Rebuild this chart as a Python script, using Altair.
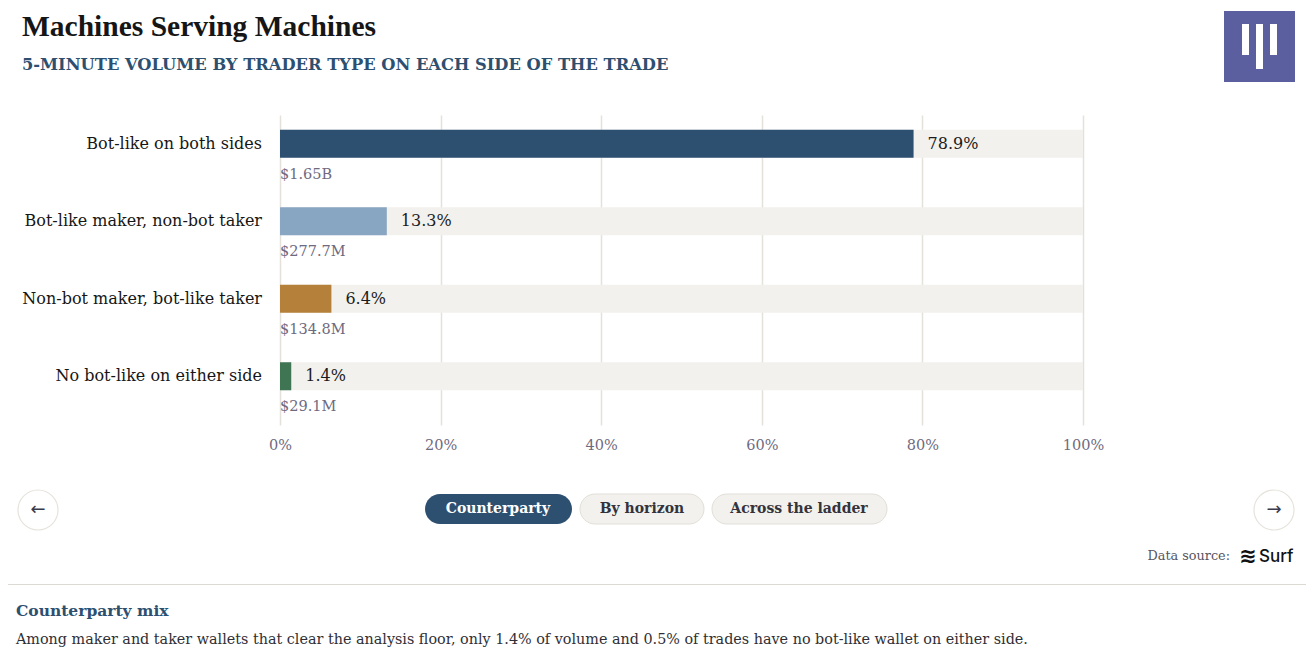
import altair as alt
import pandas as pd

categories = ["Bot-like on both sides", "Bot-like maker, non-bot taker",
              "Non-bot maker, bot-like taker", "No bot-like on either side"]
shares = [78.9, 13.3, 6.4, 1.4]
volumes = ["$1.65B", "$277.7M", "$134.8M", "$29.1M"]
colors = ["#2d4f70", "#88a5c2", "#b5813a", "#3f7552"]
tick_values = [0, 20, 40, 60, 80, 100]
buttons = ["Counterparty", "By horizon", "Across the ladder"]

SERIF = "DejaVu Serif"
TSERIF = "Liberation Serif"
W, H = 803, 310

df = pd.DataFrame({"cat": categories, "pct": shares, "vol": volumes, "full": [100] * 4})

ysc = alt.Y("cat:N", sort=categories, axis=None,
            scale=alt.Scale(paddingInner=0, paddingOuter=0))
base = alt.Chart(df)

track = base.mark_bar(size=28, yOffset=-10, color="#f2f1ed").encode(
    x=alt.X("full:Q", scale=alt.Scale(domain=[0, 100]),
            axis=alt.Axis(values=tick_values, labelExpr="datum.value + '%'", title=None,
                          grid=True, gridColor="#e4e1da", gridWidth=1.5,
                          domain=False, ticks=False, labelPadding=13, labelFlush=False,
                          labelFont=SERIF, labelFontSize=14.5, labelColor="#6e6a80")),
    y=ysc,
)
bars = base.mark_bar(size=28, yOffset=-10).encode(
    x="pct:Q", y=ysc,
    color=alt.Color("cat:N", scale=alt.Scale(domain=categories, range=colors), legend=None),
)
pct_text = base.transform_calculate(lbl="format(datum.pct, '.1f') + '%'").mark_text(
    align="left", baseline="middle", dx=14, dy=-10, font=SERIF, fontSize=16, color="#1c1c1c"
).encode(x="pct:Q", y=ysc, text="lbl:N")
vol_text = base.mark_text(
    align="left", baseline="middle", dy=21, font=SERIF, fontSize=14.5, color="#6e6a80"
).encode(x=alt.value(0), y=ysc, text="vol:N")
cat_text = base.mark_text(
    align="right", baseline="middle", dy=-10, font=SERIF, fontSize=16, color="#161616"
).encode(x=alt.value(-18), y=ysc, text="cat:N")


def txt(s, x, y, **kw):
    return alt.Chart(alt.Data(values=[{"t": s}])).mark_text(**kw).encode(
        text="t:N", x=alt.value(x), y=alt.value(y))


def box(x, x2, y, y2, **kw):
    return alt.Chart(alt.Data(values=[{}])).mark_rect(**kw).encode(
        x=alt.value(x), x2=alt.value(x2), y=alt.value(y), y2=alt.value(y2))


OX, OY = 280, 115  # plot origin on screen

deco = [
    txt("Machines Serving Machines", 22 - OX, 36 - OY, align="left", baseline="alphabetic",
        font=TSERIF, fontSize=29.5, fontWeight="bold", color="#161616"),
    txt("5-MINUTE VOLUME BY TRADER TYPE ON EACH SIDE OF THE TRADE", 22 - OX, 70 - OY,
        align="left", baseline="alphabetic", font="DejaVu Serif", fontSize=16.3,
        fontWeight="bold", color="#2d4f70"),
    box(1224 - OX, 1295 - OX, 11 - OY, 82 - OY, color="#5b5e9f"),
    box(1242 - OX, 1249 - OX, 24 - OY, 55 - OY, color="#ffffff"),
    box(1256 - OX, 1263 - OX, 24 - OY, 69 - OY, color="#ffffff"),
    box(1270 - OX, 1277 - OX, 24 - OY, 55 - OY, color="#ffffff"),
    # nav arrows
    box(18 - OX, 58 - OX, 490 - OY, 530 - OY, cornerRadius=20, fill="#ffffff",
        stroke="#e6e3dc", strokeWidth=1.2),
    box(1254 - OX, 1294 - OX, 490 - OY, 530 - OY, cornerRadius=20, fill="#ffffff",
        stroke="#e6e3dc", strokeWidth=1.2),
    txt("←", 38 - OX, 510 - OY, align="center", baseline="middle", font="DejaVu Sans",
        fontSize=18, color="#3a3a4a"),
    txt("→", 1274 - OX, 510 - OY, align="center", baseline="middle", font="DejaVu Sans",
        fontSize=18, color="#3a3a4a"),
    # buttons
    box(425 - OX, 572 - OX, 494 - OY, 524 - OY, cornerRadius=15, color="#2d4f70"),
    box(580 - OX, 704 - OX, 494 - OY, 524 - OY, cornerRadius=15, fill="#f2f1ed",
        stroke="#e2dfd8", strokeWidth=1),
    box(712 - OX, 887 - OX, 494 - OY, 524 - OY, cornerRadius=15, fill="#f2f1ed",
        stroke="#e2dfd8", strokeWidth=1),
    txt(buttons[0], 498 - OX, 509 - OY, align="center", baseline="middle", font=SERIF,
        fontSize=14, fontWeight="bold", color="#ffffff"),
    txt(buttons[1], 642 - OX, 509 - OY, align="center", baseline="middle", font=SERIF,
        fontSize=14, fontWeight="bold", color="#33333d"),
    txt(buttons[2], 799 - OX, 509 - OY, align="center", baseline="middle", font=SERIF,
        fontSize=14, fontWeight="bold", color="#33333d"),
    # data source
    txt("Data source:", 1230 - OX, 556 - OY, align="right", baseline="middle", font=SERIF,
        fontSize=12.8, color="#55555f"),
    txt("≋", 1248 - OX, 557 - OY, align="center", baseline="middle", font="DejaVu Sans",
        fontSize=21, fontWeight="bold", color="#111111"),
    txt("Surf", 1259 - OX, 557 - OY, align="left", baseline="middle", font="Inter",
        fontSize=17, fontWeight=500, color="#111111"),
    # divider and footer
    box(0 - OX, 1314 - OX, 584 - OY, 585 - OY, color="#dcdad3"),
    txt("Counterparty mix", 16 - OX, 611 - OY, align="left", baseline="middle", font=SERIF,
        fontSize=15.5, fontWeight="bold", color="#2d4f70"),
    txt("Among maker and taker wallets that clear the analysis floor, only 1.4% of volume and "
        "0.5% of trades have no bot-like wallet on either side.", 16 - OX, 640 - OY,
        align="left", baseline="middle", font=SERIF, fontSize=14.35, color="#2f2f36"),
]

chart = alt.layer(track, bars, pct_text, vol_text, cat_text, *deco).properties(
    width=W, height=H,
    autosize=alt.AutoSizeParams(type="none"),
    padding={"left": OX - 8, "top": OY - 8, "right": 1298 - (OX - 8) - W,
             "bottom": 650 - (OY - 8) - H},
    background="#ffffff",
).configure_view(strokeWidth=0)

chart.save("out.html", embed_options={"renderer": "svg", "actions": False})
